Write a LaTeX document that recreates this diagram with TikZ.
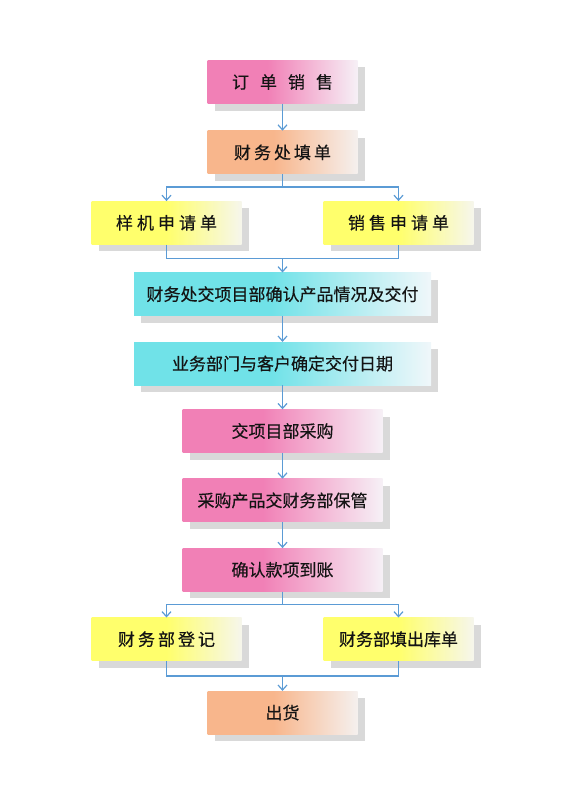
\documentclass[tikz,border=0pt]{standalone}
\usepackage{fontspec}
\newfontfamily\cjk[FakeBold=0.4]{Noto Sans CJK SC}
\usetikzlibrary{arrows.meta,positioning,calc,shadows}
\definecolor{pinkA}{RGB}{241,128,182}
\definecolor{pinkB}{RGB}{246,240,246}
\definecolor{orangeA}{RGB}{248,182,140}
\definecolor{orangeB}{RGB}{245,240,238}
\definecolor{yellowA}{RGB}{255,255,108}
\definecolor{yellowB}{RGB}{246,246,236}
\definecolor{cyanA}{RGB}{112,226,232}
\definecolor{cyanB}{RGB}{240,247,250}
\definecolor{shadowgray}{RGB}{217,217,217}
\definecolor{linkblue}{RGB}{91,155,213}
\definecolor{inkdark}{RGB}{20,20,20}
\pgfdeclarehorizontalshading{pinkfade}{100bp}{color(0bp)=(pinkA); color(25bp)=(pinkA); color(45bp)=(pinkA); color(75bp)=(pinkB); color(100bp)=(pinkB)}
\pgfdeclarehorizontalshading{orangefade}{100bp}{color(0bp)=(orangeA); color(25bp)=(orangeA); color(47bp)=(orangeA); color(75bp)=(orangeB); color(100bp)=(orangeB)}
\pgfdeclarehorizontalshading{yellowfade}{100bp}{color(0bp)=(yellowA); color(25bp)=(yellowA); color(50bp)=(yellowA); color(75bp)=(yellowB); color(100bp)=(yellowB)}
\pgfdeclarehorizontalshading{cyanfade}{100bp}{color(0bp)=(cyanA); color(25bp)=(cyanA); color(48bp)=(cyanA); color(75bp)=(cyanB); color(100bp)=(cyanB)}
\begin{document}
\begin{tikzpicture}[
    node distance=27pt,
    base/.style={draw=none,inner sep=0pt,minimum height=43pt,align=center,
      text=inkdark,font=\cjk\fontsize{17}{20}\selectfont,
      drop shadow={shadow xshift=7pt,shadow yshift=-7pt,fill=shadowgray,opacity=1}},
    pinkbox/.style={base,shading=pinkfade,minimum width=200pt},
    orangebox/.style={base,shading=orangefade,minimum width=150pt},
    yellowbox/.style={base,shading=yellowfade,minimum width=150pt},
    cyanbox/.style={base,shading=cyanfade,minimum width=297pt},
    line/.style={draw=linkblue,line width=1.5pt},
    arr/.style={line,-{Straight Barb[length=5pt,width=9pt,line width=1.2pt]}}
  ]
    \useasboundingbox (0,0) rectangle (567pt,-800pt);
    \node[pinkbox,minimum width=150pt] (order) at (282.5pt,-82pt)
      {订\hspace{11pt}单\hspace{11pt}销\hspace{11pt}售};
    \node[orangebox,below=of order] (fill)
      {财\hspace{3pt}务\hspace{3pt}处\hspace{3pt}填\hspace{3pt}单};
    \node[yellowbox,below=of fill,xshift=-116pt] (sample)
      {样\hspace{4pt}机\hspace{4pt}申\hspace{4pt}请\hspace{4pt}单};
    \node[yellowbox,below=of fill,xshift=116pt] (salesreq)
      {销\hspace{4pt}售\hspace{4pt}申\hspace{4pt}请\hspace{4pt}单};
    \coordinate (join1) at ($(sample.south -| fill.south)+(0,-14pt)$);
    \node[cyanbox,below=14pt of join1] (confirm) {财务处交项目部确认产品情况及交付};
    \node[cyanbox,below=26pt of confirm] (date) {业务部门与客户确定交付日期};
    \node[pinkbox,below=24pt of date] (purchase) {交项目部采购};
    \node[pinkbox,below=26pt of purchase] (keep) {采购产品交财务部保管};
    \node[pinkbox,below=26pt of keep] (payment) {确认款项到账};
    \node[yellowbox,below=26pt of payment,xshift=-116pt] (register)
      {财\hspace{3pt}务\hspace{3pt}部\hspace{3pt}登\hspace{3pt}记};
    \node[yellowbox,below=26pt of payment,xshift=116pt] (outbound) {财务部填出库单};
    \coordinate (join2) at ($(register.south -| payment.south)+(0,-15pt)$);
    \node[orangebox,below=15pt of join2] (ship) {出货};
    % connectors
    \draw[arr] (order) -- (fill);
    \draw[arr] (fill.south) -- ++(0,-13pt) -| (sample.north);
    \draw[arr] (fill.south) -- ++(0,-13pt) -| (salesreq.north);
    \draw[line] (sample.south) |- (join1) -| (salesreq.south);
    \draw[arr] (join1) -- (confirm.north);
    \draw[arr] (confirm) -- (date);
    \draw[arr] (date) -- (purchase);
    \draw[arr] (purchase) -- (keep);
    \draw[arr] (keep) -- (payment);
    \draw[arr] (payment.south) -- ++(0,-13pt) -| (register.north);
    \draw[arr] (payment.south) -- ++(0,-13pt) -| (outbound.north);
    \draw[line] (register.south) |- (join2) -| (outbound.south);
    \draw[arr] (join2) -- (ship.north);
  \end{tikzpicture}
\end{document}
